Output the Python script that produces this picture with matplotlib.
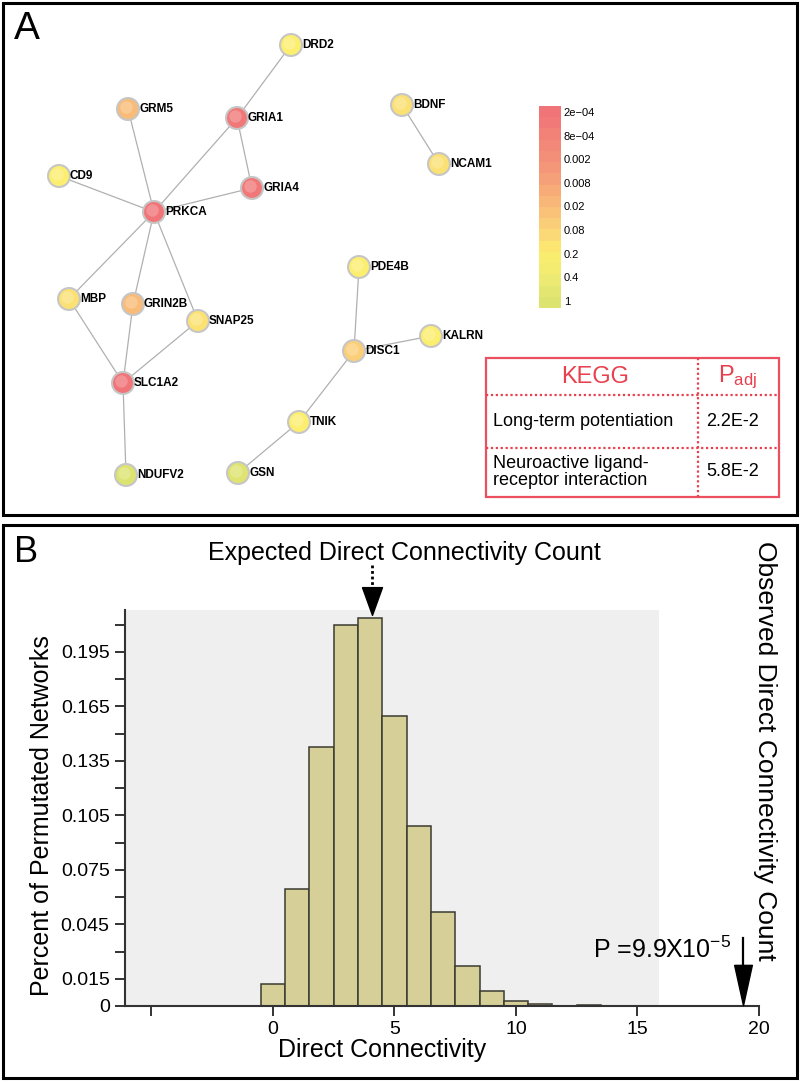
import numpy as np
import matplotlib
matplotlib.use('Agg')
import matplotlib.pyplot as plt
from matplotlib.colors import LinearSegmentedColormap, ListedColormap, Normalize
from matplotlib.cm import ScalarMappable
from matplotlib.patches import Rectangle
from matplotlib.path import Path

plt.rcParams['font.family'] = ['Liberation Sans', 'DejaVu Sans']
plt.rcParams['mathtext.fontset'] = 'custom'
plt.rcParams['mathtext.rm'] = 'Liberation Sans'
plt.rcParams['mathtext.it'] = 'Liberation Sans:italic'
plt.rcParams['mathtext.bf'] = 'Liberation Sans:bold'

# ---------------- Panel A data ----------------
genes = ['DRD2', 'GRM5', 'GRIA1', 'CD9', 'GRIA4', 'PRKCA', 'BDNF', 'NCAM1', 'PDE4B',
         'KALRN', 'DISC1', 'MBP', 'GRIN2B', 'SNAP25', 'SLC1A2', 'TNIK', 'NDUFV2', 'GSN']
node_x = [291, 128, 237, 59, 252, 154, 402, 439, 359, 431, 354, 69, 133, 198, 123, 299, 126, 238]
node_y = [45, 109, 118, 176, 188, 212, 105, 164, 267, 336, 351, 299, 304, 321, 383, 422, 475, 473]
node_p = [0.2, 0.02, 3e-4, 0.2, 3e-4, 2e-4, 0.12, 0.12, 0.2, 0.2, 0.06, 0.12, 0.02, 0.13,
          2e-4, 0.2, 1.0, 0.9]
edges = [('DRD2', 'GRIA1'), ('GRM5', 'PRKCA'), ('GRIA1', 'PRKCA'), ('GRIA1', 'GRIA4'),
         ('GRIA4', 'PRKCA'), ('CD9', 'PRKCA'), ('PRKCA', 'MBP'), ('PRKCA', 'GRIN2B'),
         ('PRKCA', 'SNAP25'), ('MBP', 'SLC1A2'), ('GRIN2B', 'SLC1A2'), ('SNAP25', 'SLC1A2'),
         ('SLC1A2', 'NDUFV2'), ('BDNF', 'NCAM1'), ('PDE4B', 'DISC1'), ('DISC1', 'KALRN'),
         ('DISC1', 'TNIK'), ('TNIK', 'GSN')]

cb_labels = ['2e\u221204', '8e\u221204', '0.002', '0.008', '0.02', '0.08', '0.2', '0.4', '1']
cb_values = [2e-4, 8e-4, 0.002, 0.008, 0.02, 0.08, 0.2, 0.4, 1.0]
cb_colors = ['#f07478', '#f28278', '#f39078', '#f6a478', '#f9bc78', '#fbd478',
             '#fcee6e', '#eeeb72', '#dce36f']

kegg_terms = ['Long-term potentiation', 'Neuroactive ligand-\nreceptor interaction']
kegg_padj = ['2.2E-2', '5.8E-2']

# ---------------- Panel B data ----------------
conn_bins = list(range(0, 14))
conn_freq = [0.0119, 0.0646, 0.1427, 0.2097, 0.2134, 0.1596, 0.0991, 0.0516, 0.0220,
             0.0084, 0.0028, 0.0009, 0.0, 0.0003]
ytick_vals = [0, 0.015, 0.03, 0.045, 0.06, 0.075, 0.09, 0.105, 0.12, 0.135, 0.15,
              0.165, 0.18, 0.195, 0.21]
ytick_labels = ['0', '0.015', '', '0.045', '', '0.075', '', '0.105', '', '0.135', '',
                '0.165', '', '0.195', '']
xtick_vals = [-5, 0, 5, 10, 15, 20]
xtick_labels = ['', '0', '5', '10', '15', '20']
expected_x = 4.07
observed_x = 19.34
p_text = r'P =9.9X10$^{\mathregular{-5}}$'

W, H = 800, 1082
fig = plt.figure(figsize=(W / 100, H / 100), dpi=100)

# overlay in pixel coordinates
ov = fig.add_axes([0, 0, 1, 1])
ov.set_xlim(0, W)
ov.set_ylim(H, 0)
ov.axis('off')
ov.set_zorder(5)

# panel borders
ov.add_patch(Rectangle((3, 3), 794, 512, fill=False, lw=2.2, ec='black'))
ov.add_patch(Rectangle((3, 525), 794, 553, fill=False, lw=2.2, ec='black'))
ov.text(14, 29, 'A', fontsize=28, ha='left', va='center')
ov.text(14, 553, 'B', fontsize=26, ha='left', va='center')

# ---------------- network ----------------
cmap = LinearSegmentedColormap.from_list('pcol', list(zip(np.linspace(0, 1, 9), cb_colors)))
pos_of = np.interp(np.log10(node_p), np.log10(cb_values), np.arange(9))
node_cols = [cmap(p / 8) for p in pos_of]
idx = {g: i for i, g in enumerate(genes)}
for a, b in edges:
    ov.plot([node_x[idx[a]], node_x[idx[b]]], [node_y[idx[a]], node_y[idx[b]]],
            color='#b0b0b0', lw=0.9, zorder=1)
ov.scatter(node_x, node_y, s=250, c=node_cols, edgecolors='#c6c6c6', linewidths=1.5, zorder=2)
ov.scatter(np.array(node_x) - 2, np.array(node_y) - 2, s=80, c='white', alpha=0.22,
           linewidths=0, zorder=3)
for g, x, y in zip(genes, node_x, node_y):
    ov.text(x + 11, y, g, fontsize=8.5, fontweight='bold', ha='left', va='center', zorder=4)

# colorbar
cax = fig.add_axes([539 / W, 1 - 308 / H, 22 / W, 202 / H])
nblk = 18
edges_pos = np.linspace(-0.25, 8.3, nblk + 1)
centers = (edges_pos[:-1] + edges_pos[1:]) / 2
blk_cols = [cmap(np.clip(c / 8, 0, 1)) for c in centers]
sm = ScalarMappable(norm=Normalize(-0.25, 8.3), cmap=ListedColormap(blk_cols))
cb = fig.colorbar(sm, cax=cax)
cb.set_ticks(range(9))
cb.set_ticklabels(cb_labels)
cax.invert_yaxis()
cb.outline.set_visible(False)
cax.tick_params(length=0, labelsize=8, pad=2)

# KEGG table
red = '#e8404f'
ov.add_patch(Rectangle((486, 358), 293, 139, fill=False, lw=1.6, ec='#ec5060', zorder=3))
ov.plot([698, 698], [358, 497], color=red, lw=1.6, ls=(0, (1, 1.2)), zorder=3)
for yy in (395, 448):
    ov.plot([486, 779], [yy, yy], color=red, lw=1.6, ls=(0, (1, 1.2)), zorder=3)
ov.text(595, 377, 'KEGG', color=red, fontsize=17, ha='center', va='center')
ov.text(738, 377, r'P$_{\mathregular{adj}}$', color=red, fontsize=17, ha='center', va='center')
row_y = [422, 472]
for t, p, yy in zip(kegg_terms, kegg_padj, row_y):
    ov.text(493, yy, t, fontsize=13, ha='left', va='center', linespacing=1.05)
    ov.text(706, yy, p, fontsize=13, ha='left', va='center')

# ---------------- histogram ----------------
ha = fig.add_axes([125 / W, 1 - 1006 / H, (759 - 125) / W, (1006 - 610) / H])
ha.set_xlim(-6.09, 20)
ha.set_ylim(0, 0.218)
ha.axvspan(-6.09, 15.9, color='#efefef', zorder=0, lw=0)
ha.bar(conn_bins, conn_freq, width=1.0, color='#d6d098', edgecolor='#3a3a30', lw=1.1, zorder=2)
for s in ('top', 'right'):
    ha.spines[s].set_visible(False)
for s in ('left', 'bottom'):
    ha.spines[s].set_color('#333333')
    ha.spines[s].set_linewidth(1.5)
ha.set_facecolor('white')
ha.set_yticks(ytick_vals)
ha.set_yticklabels(ytick_labels)
ha.set_xticks(xtick_vals)
ha.set_xticklabels(xtick_labels)
ha.tick_params(direction='out', length=7, width=1.4, labelsize=14, pad=4, color='#333333')
ha.set_xlabel('Direct Connectivity', fontsize=18, va='center')
ha.xaxis.set_label_coords(0.405, -0.111)
ha.set_ylabel('Percent of Permutated Networks', fontsize=18, va='center')
ha.yaxis.set_label_coords(-0.131, 0.48)

# arrows
ha.plot([expected_x, expected_x], [0.2427, 0.2306], color='black', lw=2, ls=(0, (1, 1)),
        clip_on=False, zorder=6)
tri = Path([(-0.36, 0.5), (0.36, 0.5), (0, -0.5), (-0.36, 0.5)])
ha.plot([expected_x], [0.2229], marker=tri, ms=20, color='black', clip_on=False, zorder=6)
ha.plot([observed_x, observed_x], [0.0374, 0.02], color='black', lw=1.6, clip_on=False, zorder=6)
tri2 = Path([(-0.22, 0.5), (0.22, 0.5), (0, -0.5), (-0.22, 0.5)])
ha.plot([observed_x], [0.0115], marker=tri2, ms=29, color='black', clip_on=False, zorder=6)

ov.text(404, 553, 'Expected Direct Connectivity Count', fontsize=18, ha='center', va='center')
ov.text(765, 751, 'Observed Direct Connectivity Count', fontsize=19, ha='center', va='center',
        rotation=-90)
ov.text(593, 950, p_text, fontsize=18, ha='left', va='center')

fig.savefig('out.png', dpi=100)
